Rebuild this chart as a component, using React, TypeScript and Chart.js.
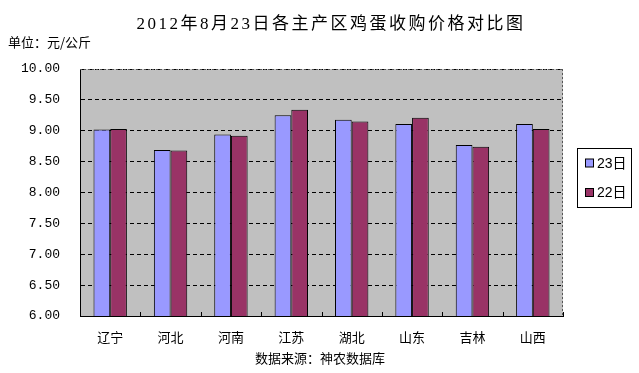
import React, { useEffect, useRef } from "react";
import { Chart, registerables } from "chart.js";

Chart.register(...registerables);

const categories = ["辽宁", "河北", "河南", "江苏", "湖北", "山东", "吉林", "山西"];
const series23 = [9.02, 8.69, 8.94, 9.25, 9.18, 9.11, 8.77, 9.11];
const series22 = [9.03, 8.68, 8.92, 9.34, 9.15, 9.21, 8.74, 9.03];
const seriesLabels = ["23日", "22日"];
const titleText = "2012年8月23日各主产区鸡蛋收购价格对比图";
const unitText = "单位：元/公斤";
const sourceText = "数据来源：神农数据库";

const BLUE = "#9999FF";
const MAROON = "#993366";
const CJK = "'Noto Sans CJK SC', sans-serif";

const decorPlugin = {
  id: "decor",
  beforeDraw(chart: any) {
    const { ctx, chartArea: a } = chart;
    ctx.save();
    ctx.fillStyle = "#C0C0C0";
    ctx.fillRect(a.left, a.top, a.right - a.left, a.bottom - a.top);
    ctx.restore();
  },
  afterDraw(chart: any) {
    const { ctx, chartArea: a } = chart;
    const xs = chart.scales.x;
    ctx.save();
    // dotted top and right border
    ctx.strokeStyle = "#555";
    ctx.lineWidth = 1;
    ctx.setLineDash([2, 2]);
    ctx.beginPath();
    ctx.moveTo(a.left, a.top + 0.5);
    ctx.lineTo(a.right, a.top + 0.5);
    ctx.moveTo(a.right - 0.5, a.top);
    ctx.lineTo(a.right - 0.5, a.bottom);
    ctx.stroke();
    ctx.setLineDash([]);
    // category ticks (inside)
    ctx.strokeStyle = "#000";
    ctx.beginPath();
    const n = categories.length;
    for (let i = 0; i <= n; i++) {
      const x = Math.round(xs.getPixelForValue(i - 0.5)) + 0.5;
      ctx.moveTo(x, a.bottom);
      ctx.lineTo(x, a.bottom - 4);
    }
    ctx.stroke();
    // title
    ctx.fillStyle = "#000";
    ctx.textBaseline = "middle";
    ctx.textAlign = "center";
    ctx.font = "17px 'Liberation Serif', " + CJK;
    (ctx as any).letterSpacing = "2.5px";
    ctx.fillText(titleText, 331, 25);
    (ctx as any).letterSpacing = "0px";
    // unit
    ctx.textAlign = "left";
    ctx.font = "13px " + CJK;
    ctx.fillText(unitText, 8, 42);
    // source
    ctx.textAlign = "center";
    ctx.font = "13px " + CJK;
    ctx.fillText(sourceText, 320, 358);
    // legend
    const lx = 577.5, ly = 148.5, lw = 54, lh = 59;
    ctx.fillStyle = "#fff";
    ctx.fillRect(lx, ly, lw, lh);
    ctx.strokeStyle = "#000";
    ctx.strokeRect(lx, ly, lw, lh);
    const colors = [BLUE, MAROON];
    const rows = [163, 192.5];
    ctx.font = "14px 'Liberation Sans', " + CJK;
    ctx.textAlign = "left";
    chart.data.datasets.forEach((ds: any, i: number) => {
      ctx.fillStyle = colors[i];
      ctx.fillRect(585.5, rows[i] - 4, 8, 8);
      ctx.strokeStyle = "#000";
      ctx.strokeRect(585.5, rows[i] - 4, 8, 8);
      ctx.fillStyle = "#000";
      ctx.fillText(ds.label, 597, rows[i] + 1);
    });
    ctx.restore();
  },
};

export default function App() {
  const ref = useRef<HTMLCanvasElement>(null);
  useEffect(() => {
    if (!ref.current) return;
    const chart = new Chart(ref.current, {
      type: "bar",
      data: {
        labels: categories,
        datasets: [
          {
            label: seriesLabels[0],
            data: series23,
            backgroundColor: BLUE,
            borderColor: "#000",
            borderWidth: 1,
            categoryPercentage: 0.553,
            barPercentage: 1,
          },
          {
            label: seriesLabels[1],
            data: series22,
            backgroundColor: MAROON,
            borderColor: "#000",
            borderWidth: 1,
            categoryPercentage: 0.553,
            barPercentage: 1,
          },
        ],
      },
      options: {
        animation: false,
        responsive: true,
        maintainAspectRatio: false,
        layout: { padding: { left: 20, right: 76, top: 69, bottom: 7 } },
        plugins: {
          legend: { display: false },
          title: { display: false },
          tooltip: { enabled: false },
        },
        scales: {
          x: {
            offset: true,
            grid: { display: false, drawTicks: false },
            border: { display: true, color: "#000", width: 1 },
            ticks: {
              padding: 13,
              color: "#000",
              font: { family: CJK, size: 13 },
              maxRotation: 0,
            },
            afterFit: (s: any) => {
              s.height = 50;
            },
          },
          y: {
            min: 6,
            max: 10,
            grid: { color: "#000", lineWidth: 1, drawTicks: false },
            border: { display: true, color: "#000", width: 1, dash: [4, 3] },
            ticks: {
              stepSize: 0.5,
              padding: 20,
              color: "#000",
              font: { family: "'Liberation Mono', monospace", size: 13 },
              callback: (v: any) => Number(v).toFixed(2),
            },
            afterFit: (s: any) => {
              s.width = 60;
            },
          },
        },
      },
      plugins: [decorPlugin],
    });
    return () => chart.destroy();
  }, []);
  return (
    <div style={{ position: "fixed", left: 0, top: 0, width: 639, height: 373, background: "#fff" }}>
      <canvas ref={ref} />
    </div>
  );
}
